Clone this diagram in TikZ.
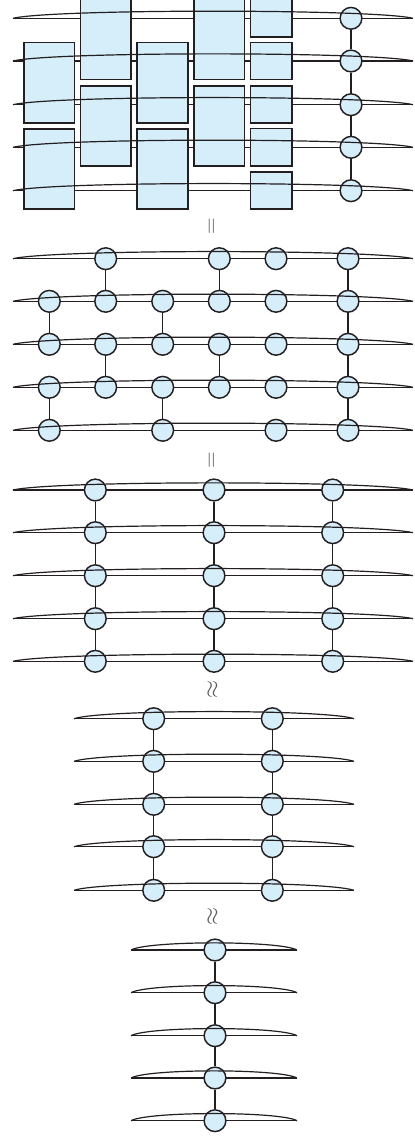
\documentclass[tikz,border=0pt]{standalone}
\usepackage{amsmath}
\usepackage{tikz}
\usetikzlibrary{positioning}
\definecolor{qfill}{HTML}{D6EDFA}
\definecolor{qline}{HTML}{231F20}
\tikzset{
    gate/.style={
           rectangle,
           draw=qline, fill=qfill, line width=1.1pt,
           minimum width=38pt,
           minimum height=60.2pt,
           inner sep=0pt,
           },
    smallgate/.style={
           gate,
           minimum width=31.3pt,
           minimum height=27.8pt,
           },
    qubit/.style={
           circle,
           draw=qline, fill=qfill, line width=1.1pt,
           minimum size=16.3pt,
           inner sep=0pt,
           },
    wire/.style={draw=qline, line width=0.9pt},
    link/.style={draw=qline, line width=1pt},
    relation/.style={
           text=black!65,
           font=\fontsize{16}{16}\selectfont,
           rotate=90,
           inner sep=0pt,
           },
}
% one wire = straight front line + curved back line
\newcommand{\wirefront}[3]{\draw[wire] (#1,#3) -- (#2,#3);}
\newcommand{\wireback}[4]{\draw[wire] (#1,#3) .. controls +(#4,-9.5) and +(-#4,-9.5) .. (#2,#3);}

\begin{document}
\begin{tikzpicture}[x=0.75pt,y=-0.75pt]
	\useasboundingbox (0,0) rectangle (414,1137);

	% front lines of all wires
	\foreach \y in {18.3,61,104.7,147.3,190.7,258.7,301.3,344.3,387.3,430.3,490,532.7,575.7,618.7,661.3}
		{\wirefront{13}{413}{\y}}
	\foreach \y in {718.7,761.3,804.3,846.7,890.3}
		{\wirefront{74}{354}{\y}}
	\foreach \y in {950,992.7,1035.7,1078,1120.7}
		{\wirefront{131}{297}{\y}}

	% circuit of gates
	\node[gate] (gA1) at (49.2,82.9) {};
	\node[gate] (gA2) at (49.2,169) {};
	\node[gate] (gB1) at (105.8,39.6) {};
	\node[gate] (gB2) at (105.8,126) {};
	\node[gate] (gC1) at (162.5,82.9) {};
	\node[gate] (gC2) at (162.5,169) {};
	\node[gate] (gD1) at (219.2,39.6) {};
	\node[gate] (gD2) at (219.2,126) {};
	\foreach \r/\y in {1/18.3,2/61,3/104.7,4/147.3,5/190.7}
		\node[smallgate] (gE\r) at (271.3,\y) {};
	\foreach \r/\y in {1/18.3,2/61,3/104.7,4/147.3,5/190.7}
		\node[qubit] (a\r) at (351,\y) {};
	\path[link] (a1) edge (a2) (a2) edge (a3) (a3) edge (a4) (a4) edge (a5);

	\node[relation] (eq1) at (213,226) {$=$};

	% brickwork of two-qubit links
	\foreach \c/\x in {2/105.7,4/219.3,5/276,6/348}
		\node[qubit] (b1\c) at (\x,258.7) {};
	\foreach \r/\y in {2/301.3,3/344.3,4/387.3}
		\foreach \c/\x in {1/49.3,2/105.7,3/162.7,4/219.3,5/276,6/348}
			\node[qubit] (b\r\c) at (\x,\y) {};
	\foreach \c/\x in {1/49.3,3/162.7,5/276,6/348}
		\node[qubit] (b5\c) at (\x,430.3) {};
	\foreach \c in {2,4,6} \path[link] (b1\c) edge (b2\c);
	\foreach \c in {1,3,6} \path[link] (b2\c) edge (b3\c);
	\foreach \c in {2,4,6} \path[link] (b3\c) edge (b4\c);
	\foreach \c in {1,3,6} \path[link] (b4\c) edge (b5\c);

	\node[relation] (eq2) at (213,460) {$=$};

	% three chains
	\foreach \r/\y in {1/490,2/532.7,3/575.7,4/618.7,5/661.3}
		\foreach \c/\x in {1/95.3,2/214,3/332.7}
			\node[qubit] (c\r\c) at (\x,\y) {};
	\foreach \c in {1,2,3}
		\path[link] (c1\c) edge (c2\c) (c2\c) edge (c3\c) (c3\c) edge (c4\c) (c4\c) edge (c5\c);

	\node[relation] (ap1) at (213,690) {$\approx$};

	% two chains
	\foreach \r/\y in {1/718.7,2/761.3,3/804.3,4/846.7,5/890.3}
		\foreach \c/\x in {1/153.7,2/272.3}
			\node[qubit] (d\r\c) at (\x,\y) {};
	\foreach \c in {1,2}
		\path[link] (d1\c) edge (d2\c) (d2\c) edge (d3\c) (d3\c) edge (d4\c) (d4\c) edge (d5\c);

	\node[relation] (ap2) at (213,917) {$\approx$};

	% one chain
	\foreach \r/\y in {1/950,2/992.7,3/1035.7,4/1078,5/1120.7}
		\node[qubit] (e\r) at (215,\y) {};
	\path[link] (e1) edge (e2) (e2) edge (e3) (e3) edge (e4) (e4) edge (e5);

	% back lines of all wires
	\foreach \y in {18.3,61,104.7,147.3,190.7,258.7,301.3,344.3,387.3,430.3,490,532.7,575.7,618.7,661.3}
		{\wireback{13}{413}{\y}{40}}
	\foreach \y in {718.7,761.3,804.3,846.7,890.3}
		{\wireback{74}{354}{\y}{28}}
	\foreach \y in {950,992.7,1035.7,1078,1120.7}
		{\wireback{131}{297}{\y}{17}}
\end{tikzpicture}
\end{document}
